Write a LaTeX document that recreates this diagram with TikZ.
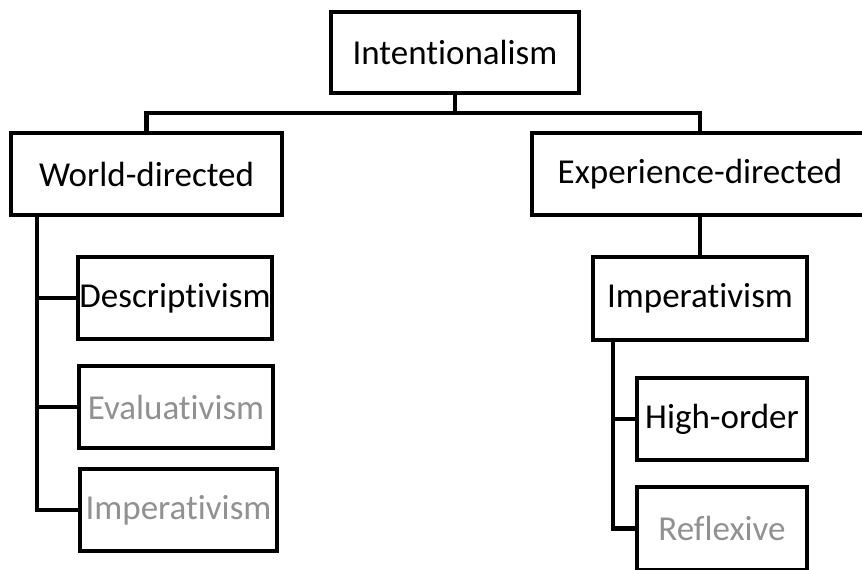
\documentclass[tikz,border=0pt]{standalone}
\usepackage{fontspec}
\setmainfont{Carlito}[Ligatures=NoCommon]
\definecolor{txtgray}{RGB}{145,145,145}
\begin{document}
\begin{tikzpicture}[x=1pt,y=-1pt,
  box/.style={draw=black, line width=4.6pt, fill=white, inner sep=0pt,
    font=\fontsize{35}{40}\selectfont, align=center},
  conn/.style={draw=black, line width=4.6pt, line join=miter},
  faded/.style={text=txtgray}]
\useasboundingbox (0,0) rectangle (862,570);
\clip (0,0) rectangle (862,570);
\node[box, minimum width=248pt, minimum height=81pt] (I) at (455,52.5) {Intentionalism};
\node[box, minimum width=271pt, minimum height=82pt] (W) at (146.5,174) {World-directed};
\node[box, minimum width=336pt, minimum height=82pt] (E) at (700,174) {Experience-directed};
\node[box, minimum width=194pt, minimum height=82pt] (D) at (175,298) {Descriptivism};
\node[box, faded, minimum width=194pt, minimum height=82pt] (V) at (176,407) {Evaluativism};
\node[box, faded, minimum width=197pt, minimum height=82pt] (L) at (178.5,510) {Imperativism};
\node[box, minimum width=214pt, minimum height=83pt] (R) at (700,298.5) {Imperativism};
\node[box, minimum width=170pt, minimum height=82pt] (H) at (722,419) {High-order};
\node[box, faded, minimum width=170pt, minimum height=83pt] (F) at (722,528.5) {Reflexive};
\coordinate (bus) at (455,113);
\coordinate (lt) at (37,0);
\coordinate (rt) at (613,0);
\draw[conn] (I.south) -- (bus);
\draw[conn] (W.north) |- (bus) -| (E.north);
\draw[conn] (W.south -| lt) |- (L.west);
\draw[conn] (lt |- D.west) -- (D.west);
\draw[conn] (lt |- V.west) -- (V.west);
\draw[conn] (E.south) -- (R.north);
\draw[conn] (R.south -| rt) |- (F.west);
\draw[conn] (rt |- H.west) -- (H.west);
\end{tikzpicture}
\end{document}
